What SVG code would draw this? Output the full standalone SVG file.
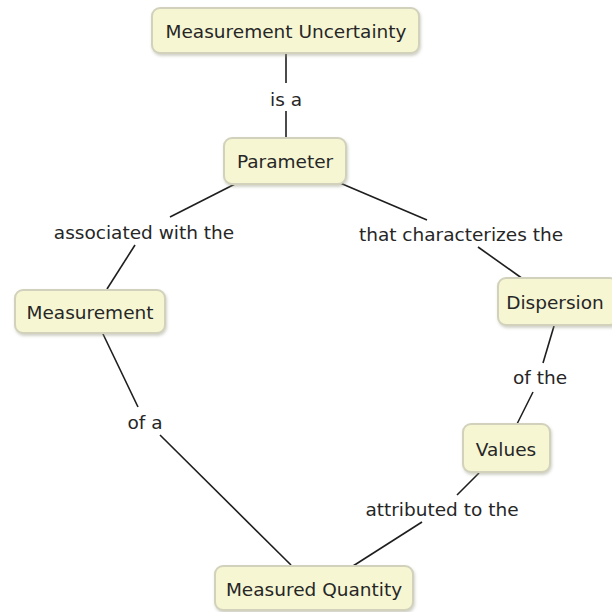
<svg xmlns="http://www.w3.org/2000/svg" width="612" height="612" viewBox="0 0 612 612">
  <defs>
    <filter id="shadow" x="-10%" y="-20%" width="120%" height="150%">
      <feDropShadow dx="1" dy="2" stdDeviation="1.5" flood-color="#9a9a88" flood-opacity="0.45"/>
    </filter>
  </defs>
  <style>
    .node rect { fill: #f6f6d3; stroke: #d2d2bc; stroke-width: 2; filter: url(#shadow); }
    .node text { font-family: "DejaVu Sans", Verdana, sans-serif; font-size: 18.5px; fill: #262626; text-anchor: middle; }
    .links line { stroke: #1e1e1e; stroke-width: 1.6; }
    .links text { font-family: "DejaVu Sans", Verdana, sans-serif; font-size: 18.5px; fill: #262626; text-anchor: middle; }
  </style>
  <rect width="612" height="612" fill="#ffffff"/>

  <!-- connectors with their linking phrases -->
  <g id="connectors" class="links">
    <line x1="286" y1="53" x2="286" y2="83"/>
    <text x="286" y="106">is a</text>
    <line x1="286" y1="111" x2="286" y2="138"/>

    <line x1="237" y1="183" x2="170" y2="217"/>
    <text x="144" y="239">associated with the</text>
    <line x1="135" y1="245" x2="107" y2="289"/>

    <line x1="340" y1="183" x2="427" y2="220"/>
    <text x="461" y="241">that characterizes the</text>
    <line x1="478" y1="247" x2="523" y2="279"/>

    <line x1="554" y1="326" x2="543" y2="363"/>
    <text x="540" y="384">of the</text>
    <line x1="533" y1="392" x2="517" y2="424"/>

    <line x1="479" y1="473" x2="457" y2="495"/>
    <text x="442" y="516">attributed to the</text>
    <line x1="422" y1="522" x2="353" y2="566"/>

    <line x1="103" y1="334" x2="138" y2="407"/>
    <text x="145" y="429">of a</text>
    <line x1="160" y1="435" x2="291" y2="565"/>
  </g>

  <g id="measurement-uncertainty" class="node">
    <rect x="152" y="8" width="267" height="45" rx="8"/>
    <text x="286" y="38">Measurement Uncertainty</text>
  </g>
  <g id="parameter" class="node">
    <rect x="224" y="138" width="122" height="46" rx="8"/>
    <text x="285" y="168">Parameter</text>
  </g>
  <g id="measurement" class="node">
    <rect x="15" y="290" width="150" height="43" rx="8"/>
    <text x="90" y="319">Measurement</text>
  </g>
  <g id="dispersion" class="node">
    <rect x="498" y="278" width="120" height="47" rx="8"/>
    <text x="555" y="309">Dispersion</text>
  </g>
  <g id="values" class="node">
    <rect x="463" y="424" width="87" height="48" rx="8"/>
    <text x="506" y="456">Values</text>
  </g>
  <g id="measured-quantity" class="node">
    <rect x="215" y="566" width="198" height="44" rx="8"/>
    <text x="314" y="596">Measured Quantity</text>
  </g>
</svg>
